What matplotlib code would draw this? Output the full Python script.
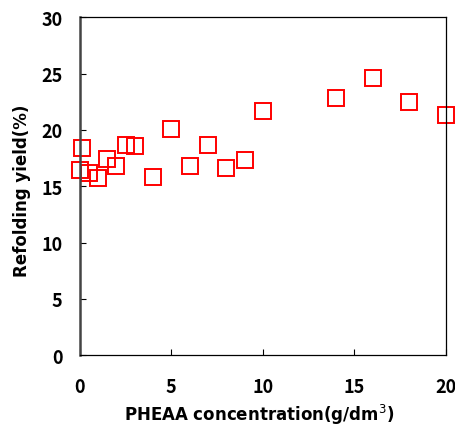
import matplotlib.pyplot as plt

plt.rcParams['font.family'] = ['Noto Sans CJK JP', 'DejaVu Sans']

# PHEAA concentration (g/dm3) and refolding yield (%)
conc = [0, 0.1, 0.5, 1, 1.5, 2, 2.5, 3, 4, 5, 6, 7, 8, 9, 10, 14, 16, 18, 20]
yield_pct = [16.4, 18.4, 16.2, 15.7, 17.4, 16.8, 18.7, 18.6, 15.8, 20.1,
             16.8, 18.7, 16.6, 17.3, 21.7, 22.8, 24.6, 22.5, 21.3]

fig = plt.figure(figsize=(4.56, 4.27), dpi=100)
ax = fig.add_axes([0.175, 0.166, 0.803, 0.791])

ax.plot(conc, yield_pct, linestyle='none', marker='s', markersize=11,
        markerfacecolor='none', markeredgecolor='#ff0000', markeredgewidth=1.4,
        clip_on=False)

ax.set_xlim(0, 20)
ax.set_ylim(0, 30)
ax.set_xticks([0, 5, 10, 15, 20])
ax.set_yticks([0, 5, 10, 15, 20, 25, 30])
ax.tick_params(direction='in', length=4, width=0.8, labelsize=13)
ax.tick_params(axis='x', pad=16)
ax.tick_params(axis='y', pad=12.5)
for lab in ax.get_xticklabels() + ax.get_yticklabels():
    lab.set_fontweight('bold')

for s in ['top', 'right', 'bottom']:
    ax.spines[s].set_linewidth(0.9)
ax.spines['left'].set_linewidth(1.8)
ax.spines['left'].set_color('#444444')

lab_font = dict(family='DejaVu Sans', fontsize=12, fontweight='bold')
ax.set_xlabel('PHEAA concentration(g/dm$^3$)', va='baseline', **lab_font)
ax.xaxis.set_label_coords(0.49, -0.193)
ax.set_ylabel('Refolding yield(%)', va='baseline', **lab_font)
ax.yaxis.set_label_coords(-0.145, 0.49)

fig.savefig('out.png', dpi=100)
